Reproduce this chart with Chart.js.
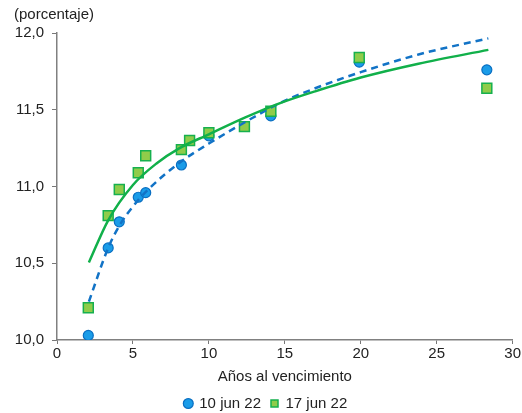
<!DOCTYPE html>
<html>
<head>
<meta charset="utf-8">
<script src="https://cdn.jsdelivr.net/npm/chart.js@4"></script>
<style>
  html, body { margin: 0; padding: 0; background: #fff; }
  #wrap { width: 522px; height: 413px; }
</style>
</head>
<body>
<div id="wrap"><canvas id="curve"></canvas></div>
<script>
// --- observed yields (porcentaje) by years to maturity ---
const maturitiesJun10 = [2.06, 3.37, 4.10, 5.35, 5.84, 8.19, 10.0, 14.08, 19.9, 28.3];
const ratesJun10      = [10.03, 10.60, 10.77, 10.93, 10.96, 11.14, 11.33, 11.46, 11.81, 11.76];

const maturitiesJun17 = [2.06, 3.37, 4.10, 5.35, 5.84, 8.19, 8.73, 10.0, 12.34, 14.08, 19.9, 28.3];
const ratesJun17      = [10.21, 10.81, 10.98, 11.09, 11.20, 11.24, 11.30, 11.35, 11.39, 11.49, 11.84, 11.64];

// --- fitted curves ---
const fitX10 = [2.1, 3.37, 4.2, 5, 6, 8, 10, 12.4, 14.6, 17, 20, 23.8, 28.4];
const fitY10 = [10.25, 10.60, 10.76, 10.87, 10.98, 11.15, 11.28, 11.42, 11.54, 11.64, 11.745, 11.86, 11.965];

const fitX17 = [2.1, 3.37, 5, 6.55, 8.07, 10, 12.4, 14.6, 17, 20, 23.8, 28.4];
const fitY17 = [10.505, 10.78, 11.01, 11.15, 11.25, 11.34, 11.45, 11.54, 11.62, 11.71, 11.80, 11.89];

const seriesLabels = ["10 jun 22", "17 jun 22"];
const xTicks = [0, 5, 10, 15, 20, 25, 30];
const yTicks = [10.0, 10.5, 11.0, 11.5, 12.0];

const pts = (xs, ys) => xs.map((x, i) => ({ x: x, y: ys[i] }));
const comma = (v) => v.toFixed(1).replace(".", ",");

const font = { family: "'Liberation Sans', Arial, sans-serif", size: 15, weight: "normal" };

new Chart(document.getElementById("curve"), {
  type: "scatter",
  data: {
    datasets: [
      {
        label: seriesLabels[0],
        data: pts(maturitiesJun10, ratesJun10),
        pointStyle: "circle",
        pointRadius: 5,
        pointBackgroundColor: "#1a9ce8",
        pointBorderColor: "#0a6fc2",
        pointBorderWidth: 1.2,
        backgroundColor: "#1a9ce8",
        borderColor: "#0a6fc2",
        order: 4
      },
      {
        label: seriesLabels[1],
        data: pts(maturitiesJun17, ratesJun17),
        pointStyle: "rect",
        pointRadius: 7,
        pointBackgroundColor: "#8fcc4a",
        pointBorderColor: "#16b04e",
        pointBorderWidth: 1.5,
        backgroundColor: "#8fcc4a",
        borderColor: "#16b04e",
        order: 3
      },
      {
        label: "fit10",
        data: pts(fitX10, fitY10),
        showLine: true,
        pointRadius: 0,
        borderColor: "#1273c6",
        borderWidth: 2.5,
        borderDash: [7, 5],
        cubicInterpolationMode: "monotone",
        order: 2
      },
      {
        label: "fit17",
        data: pts(fitX17, fitY17),
        showLine: true,
        pointRadius: 0,
        borderColor: "#11b04a",
        borderWidth: 2.5,
        cubicInterpolationMode: "monotone",
        order: 1
      }
    ]
  },
  options: {
    responsive: true,
    maintainAspectRatio: false,
    animation: false,
    layout: { padding: { left: 14, right: 4, top: 0, bottom: -8 } },
    scales: {
      x: {
        type: "linear",
        min: 0,
        max: 30,
        afterBuildTicks: (s) => { s.ticks = xTicks.map((v) => ({ value: v })); },
        ticks: { color: "#222", font: font, padding: 1, maxRotation: 0 },
        grid: { drawOnChartArea: false, drawTicks: true, tickLength: 4, color: "#777" },
        border: { color: "#808080", width: 1.5 },
        title: { display: true, text: "Años al vencimiento", color: "#222", font: font, padding: { top: 4, bottom: 0 } }
      },
      y: {
        min: 10,
        max: 12,
        afterBuildTicks: (s) => { s.ticks = yTicks.map((v) => ({ value: v })); },
        afterFit: (s) => { s.width = 43; },
        ticks: { color: "#222", font: font, padding: 8, callback: (v) => comma(v) },
        grid: { drawOnChartArea: false, drawTicks: true, tickLength: 5, color: "#777" },
        border: { color: "#808080", width: 1.5 }
      }
    },
    plugins: {
      title: {
        display: true,
        text: "(porcentaje)",
        align: "start",
        color: "#222",
        font: font,
        padding: { top: 6, bottom: 9 }
      },
      legend: {
        position: "bottom",
        labels: {
          usePointStyle: true,
          boxWidth: 7,
          boxHeight: 7,
          color: "#222",
          font: font,
          padding: 10,
          filter: (item) => item.datasetIndex < 2,
          sort: (a, b) => a.datasetIndex - b.datasetIndex
        }
      },
      tooltip: { enabled: false }
    }
  }
});
</script>
</body>
</html>
